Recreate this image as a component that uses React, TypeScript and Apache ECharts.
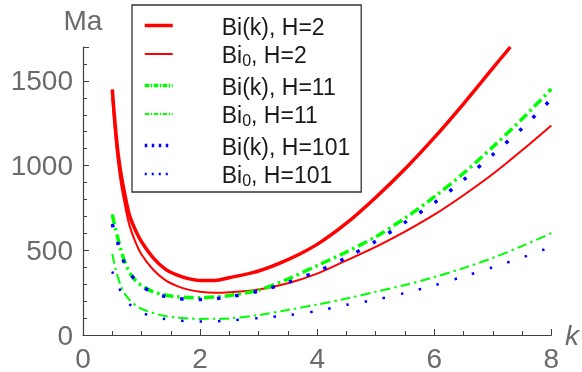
import React, { useEffect, useRef } from "react";
import * as echarts from "echarts";

// ---- data ----
const kMain = [0.5, 0.55, 0.6, 0.65, 0.7, 0.75, 0.8, 0.9, 1.0, 1.2, 1.4, 1.6, 1.8, 2.0, 2.25, 2.5, 3.0, 3.5, 4.0, 4.5, 5.0, 5.5, 6.0, 6.5, 7.0, 7.5, 8.0];
const kBiKH2 = [0.5, 0.55, 0.6, 0.65, 0.7, 0.75, 0.8, 0.9, 1.0, 1.2, 1.4, 1.6, 1.8, 2.0, 2.25, 2.5, 3.0, 3.5, 4.0, 4.5, 5.0, 5.5, 6.0, 6.5, 7.0, 7.3];

const biK_H2 = [1450, 1240, 1070, 950, 855, 770, 700, 615, 550, 455, 390, 355, 333, 322, 322, 338, 378, 445, 535, 660, 812, 980, 1165, 1365, 1575, 1700];
const bi0_H2 = [1400, 1180, 1015, 890, 798, 710, 640, 545, 475, 385, 325, 290, 268, 255, 249, 252, 268, 305, 362, 440, 520, 610, 710, 825, 950, 1090, 1237];
const biK_H11 = [712, 632, 565, 500, 445, 400, 365, 320, 292, 255, 236, 226, 221, 220, 224, 233, 265, 330, 410, 490, 580, 690, 815, 955, 1110, 1275, 1452];
const bi0_H11 = [478, 400, 337, 288, 252, 226, 205, 175, 155, 130, 112, 103, 98, 95, 96, 98, 118, 148, 180, 215, 255, 295, 342, 395, 455, 525, 601];
const biK_H101 = [655, 593, 537, 480, 431, 395, 365, 323, 290, 248, 228, 216, 210, 209, 214, 225, 259, 310, 375, 457, 553, 665, 780, 915, 1065, 1220, 1392];
const bi0_H101 = [375, 328, 290, 255, 225, 200, 180, 152, 133, 108, 94, 86, 82, 80, 81, 86, 100, 117, 142, 178, 208, 248, 293, 345, 400, 457, 520];

const seriesNames = ["Bi(k), H=2", "Bi0, H=2", "Bi(k), H=11", "Bi0, H=11", "Bi(k), H=101", "Bi0, H=101"];
const xTickLabels = ["0", "2", "4", "6", "8"];
const yTickLabels = ["0", "500", "1000", "1500"];

const FONT = "'Liberation Sans', Arial, sans-serif";
const AXIS_COLOR = "#404040";
const LABEL_COLOR = "#6a6a6a";
const TEXT_COLOR = "#1a1a1a";

const RED = "#ff0000";
const GREEN = "#00ff00";
const BLUE = "#0000ff";

export default function App() {
  const ref = useRef<HTMLDivElement>(null);

  useEffect(() => {
    document.body.style.margin = "0";
    if (!ref.current) return;
    const chart = echarts.init(ref.current, null, { renderer: "svg" });

    const styles: { color: string; width: number; type: any; legendType: any }[] = [
      { color: RED, width: 3.5, type: "solid", legendType: "solid" },
      { color: RED, width: 2, type: "solid", legendType: "solid" },
      { color: GREEN, width: 3.5, type: [10, 4, 2.5, 4], legendType: [4.5, 1.5, 1.5, 1.5] },
      { color: GREEN, width: 2, type: [10, 4, 2.5, 4], legendType: [4.5, 1.5, 1.5, 1.5] },
      { color: BLUE, width: 3.5, type: [3.5, 15], legendType: [2.5, 4.5] },
      { color: BLUE, width: 2.5, type: [2.5, 16], legendType: [2, 5] },
    ];
    const xs = [kBiKH2, kMain, kMain, kMain, kMain, kMain];
    const ys = [biK_H2, bi0_H2, biK_H11, bi0_H11, biK_H101, bi0_H101];

    const series = seriesNames.map((name, s) => ({
      type: "line",
      name,
      data: xs[s].map((k, i) => [k, ys[s][i]]),
      yAxisIndex: 0,
      showSymbol: false,
      symbol: "circle",
      smooth: 0.3,
      clip: true,
      lineStyle: { color: styles[s].color, width: styles[s].width, type: styles[s].type, cap: "butt", join: "round" },
      itemStyle: { color: styles[s].color },
      emphasis: { disabled: true },
    }));

    const tickStyle = { color: AXIS_COLOR, width: 1 };

    chart.setOption({
      animation: false,
      grid: { left: 83, right: 27, top: 47, bottom: 35, containLabel: false },
      legend: {
        orient: "vertical",
        left: 132,
        top: 5,
        padding: [7.5, 11, 4, 11],
        borderColor: "#333333",
        borderWidth: 1.3,
        backgroundColor: "#ffffff",
        itemWidth: 28,
        itemHeight: 14,
        itemGap: 4.5,
        selectedMode: false,
        itemStyle: { opacity: 0 },
        data: seriesNames.map((n, i) => ({
          name: n,
          lineStyle: { type: styles[i].legendType, width: styles[i].width, color: styles[i].color, cap: "butt" },
        })),
        formatter: (name: string) =>
          name.startsWith("Bi0") ? `{m|Bi}{sub|0}{m|${name.slice(3)}}` : `{n|${name}}`,
        textStyle: {
          fontFamily: FONT,
          fontSize: 23,
          color: TEXT_COLOR,
          padding: [0, 0, 0, 44],
          rich: {
            n: { fontFamily: FONT, fontSize: 23, color: TEXT_COLOR, lineHeight: 22, padding: [3, 0, 0, 0] },
            m: { fontFamily: FONT, fontSize: 23, color: TEXT_COLOR, lineHeight: 22, verticalAlign: "top" },
            sub: { fontFamily: FONT, fontSize: 16, color: TEXT_COLOR, lineHeight: 16, padding: [9, 0, 0, 0], verticalAlign: "top" },
          },
        },
      },
      xAxis: {
        type: "value",
        min: 0,
        max: 8,
        interval: 2,
        name: "k",
        nameLocation: "end",
        nameGap: 10,
        nameTextStyle: { fontFamily: FONT, fontSize: 28, fontStyle: "italic", color: LABEL_COLOR },
        axisLine: { show: true, lineStyle: { color: AXIS_COLOR, width: 1.2 } },
        axisTick: { show: true, inside: true, length: 6, lineStyle: tickStyle },
        minorTick: { show: true, splitNumber: 4, length: 4, lineStyle: tickStyle },
        axisLabel: {
          fontFamily: FONT,
          fontSize: 28,
          color: LABEL_COLOR,
          margin: 9,
          formatter: (v: number) => xTickLabels[Math.round(v / 2)] ?? "",
        },
        splitLine: { show: false },
        minorSplitLine: { show: false },
      },
      yAxis: [
        {
          type: "value",
          position: "left",
          min: 0,
          max: 1700,
          interval: 100,
          name: "Ma",
          nameLocation: "end",
          nameGap: 13,
          nameTextStyle: { fontFamily: FONT, fontSize: 28, color: LABEL_COLOR, align: "center" },
          axisLine: { show: true, lineStyle: { color: AXIS_COLOR, width: 1.2 } },
          axisTick: { show: true, inside: true, length: 4, lineStyle: tickStyle },
          axisLabel: { show: false },
          splitLine: { show: false },
        },
        {
          type: "value",
          position: "left",
          min: 0,
          max: 1700,
          interval: 500,
          axisLine: { show: false },
          axisTick: { show: true, inside: true, length: 6, lineStyle: tickStyle },
          axisLabel: {
            fontFamily: FONT,
            fontSize: 28,
            color: LABEL_COLOR,
            margin: 10,
            formatter: (v: number) => (v % 500 === 0 ? yTickLabels[v / 500] ?? "" : ""),
          },
          splitLine: { show: false },
        },
      ],
      series,
    });

    return () => chart.dispose();
  }, []);

  return <div ref={ref} style={{ width: 582, height: 372, position: "fixed", left: 0, top: 0 }} />;
}
